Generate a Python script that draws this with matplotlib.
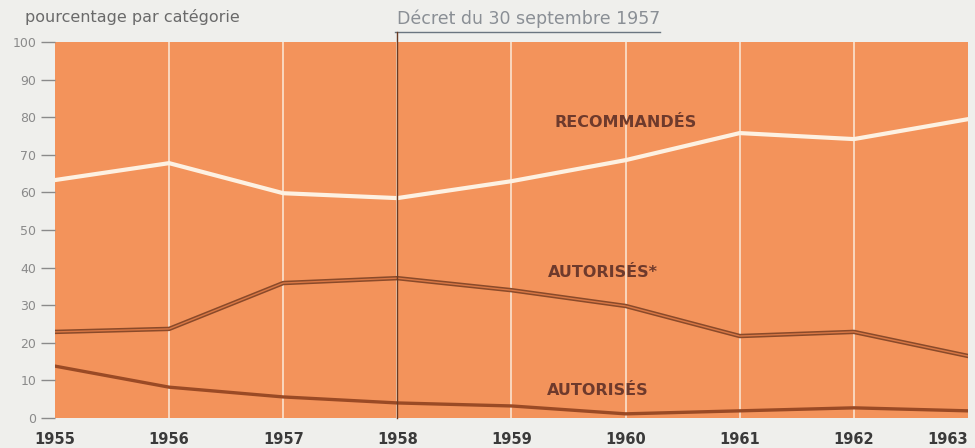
import matplotlib.pyplot as plt
import numpy as np

years = [1955, 1956, 1957, 1958, 1959, 1960, 1961, 1962, 1963]
# cumulative boundaries (percent)
autorises = [13.8, 8.2, 5.6, 4.0, 3.2, 1.1, 1.9, 2.7, 1.9]
autorises_star = [22.9, 23.7, 35.9, 37.2, 34.0, 29.8, 21.8, 22.9, 16.5]
recommandes = [63.3, 67.8, 59.8, 58.5, 63.0, 68.6, 75.8, 74.2, 79.5]
yticks = [0, 10, 20, 30, 40, 50, 60, 70, 80, 90, 100]

bg = "#efefec"
orange = "#f3935b"
dark = "#8a4a2a"
label_col = "#6e3a2c"

fig = plt.figure(figsize=(9.75, 4.48), dpi=100, facecolor=bg)
ax = fig.add_axes([0.0564, 0.067, 0.9364, 0.839])
ax.set_facecolor(orange)

# vertical white year lines
for yr in years[1:-1]:
    ax.axvline(yr, color="#fbe3cf", lw=1.2, zorder=1)

# recommandes boundary (white)
ax.plot(years, recommandes, color="#fdf1e2", lw=3, zorder=3, solid_joinstyle="round")

# autorises* double line
ax.plot(years, autorises_star, color=dark, lw=3.2, zorder=3)
ax.plot(years, autorises_star, color="#d97845", lw=1.0, zorder=4)

# autorises line
ax.plot(years, autorises, color="#9a4a25", lw=2.4, zorder=3)

# decree line
ax.plot([1958, 1958], [0, 102.7], color="#6a3a22", lw=1.0, zorder=5, clip_on=False)
ax.plot([1957.98, 1960.3], [102.7, 102.7], color="#6a7580", lw=1.0, clip_on=False)
ax.text(1958.0, 106.3, "Décret du 30 septembre 1957", color="#8a8f95", fontsize=12.5,
        ha="left", va="center", clip_on=False)

ax.text(1960.0, 78.5, "RECOMMANDÉS", color=label_col, fontsize=11.5, fontweight="bold",
        ha="center", va="center")
ax.text(1959.8, 38.8, "AUTORISÉS*", color=label_col, fontsize=11.5, fontweight="bold",
        ha="center", va="center")
ax.text(1959.76, 7.4, "AUTORISÉS", color=label_col, fontsize=11.5, fontweight="bold",
        ha="center", va="center")

ax.set_xlim(1955, 1963)
ax.set_ylim(0, 100)
ax.set_yticks(yticks)
ax.set_xticks(years)
ax.set_xticklabels([str(y) for y in years], fontweight="bold", color="#3a3a3a", fontsize=10.5)
ax.get_xticklabels()[-1].set_ha("right")
ax.tick_params(axis="y", colors="#8a8a8a", labelcolor="#8a8a8a", labelsize=9, length=10, width=1, direction="out")
ax.tick_params(axis="x", length=0, pad=10)
for s in ax.spines.values():
    s.set_visible(False)

fig.text(25 / 975, 1 - 17 / 448, "pourcentage par catégorie", color="#6a6a6a",
         fontsize=11.5, ha="left", va="center")

fig.savefig("out.png", dpi=100, facecolor=bg)
